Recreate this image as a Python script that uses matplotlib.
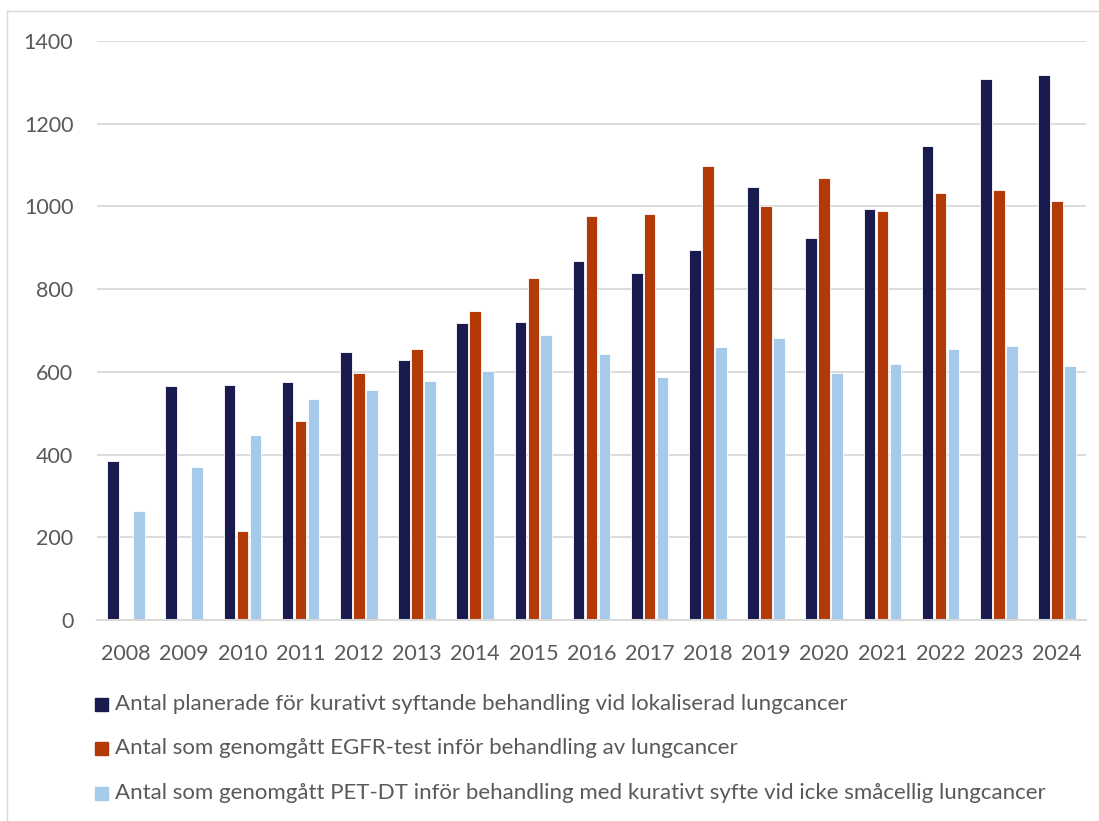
import matplotlib
matplotlib.use("Agg")
import matplotlib.pyplot as plt
import numpy as np
from matplotlib.lines import Line2D

years = ["2008", "2009", "2010", "2011", "2012", "2013", "2014", "2015", "2016",
         "2017", "2018", "2019", "2020", "2021", "2022", "2023", "2024"]
planerade = [385, 566, 569, 576, 647, 628, 719, 721, 869, 839, 895, 1048, 924, 993, 1146, 1308, 1317]
egfr = [0, 0, 214, 480, 597, 655, 747, 827, 976, 981, 1098, 1000, 1069, 990, 1032, 1039, 1013]
petdt = [263, 371, 447, 534, 555, 577, 603, 690, 644, 588, 659, 681, 598, 618, 655, 663, 615]

labels = [
    "Antal planerade för kurativt syftande behandling vid lokaliserad lungcancer",
    "Antal som genomgått EGFR-test inför behandling av lungcancer",
    "Antal som genomgått PET-DT inför behandling med kurativt syfte vid icke småcellig lungcancer",
]
colors = ["#191A4D", "#B33A06", "#A6CAEA"]
yticks = [0, 200, 400, 600, 800, 1000, 1200, 1400]

plt.rcParams['font.family'] = ['Lato', 'DejaVu Sans']
text_color = "#595959"
grid_color = "#D9D9D9"

fig = plt.figure(figsize=(10.99, 8.21), dpi=100)
ax = fig.add_axes([97/1099, 1-620/821, (1086-97)/1099, (620-41)/821])

x = np.arange(len(years))
w = 0.2
off = 0.223
for i, (vals, c) in enumerate(zip([planerade, egfr, petdt], colors)):
    ax.bar(x + (i-1)*off, vals, width=w, color=c, edgecolor="white", linewidth=0.6, zorder=3)

ax.set_xlim(-0.5, len(years)-0.5)
ax.set_ylim(0, 1400)
ax.set_yticks(yticks)
ax.set_yticklabels([str(v) for v in yticks])
ax.set_xticks(x)
ax.set_xticklabels(years)
ax.tick_params(axis='both', length=0, colors=text_color, labelsize=15.5)
ax.tick_params(axis='y', pad=17)
ax.tick_params(axis='x', pad=17)
ax.grid(axis='y', color=grid_color, linewidth=1.3, zorder=0)
for s in ["top", "right", "left"]:
    ax.spines[s].set_visible(False)
ax.spines["bottom"].set_color(grid_color)
ax.spines["bottom"].set_linewidth(1.5)
ax.spines["bottom"].set_zorder(4)

# legend rows
ys = [704, 748, 793]
for lab, c, yy in zip(labels, colors, ys):
    fy = 1 - yy/821
    fig.patches.append(plt.Rectangle((95/1099, fy - 6.5/821), 13/1099, 13/821,
                                     transform=fig.transFigure, color=c))
    fig.text(115/1099, fy, lab, color=text_color, fontsize=16, va='center', ha='left')

# outer frame (left & top)
fig.add_artist(Line2D([7/1099, 7/1099], [0, 1-11/821], transform=fig.transFigure, color=grid_color, lw=1))
fig.add_artist(Line2D([7/1099, 1], [1-11/821, 1-11/821], transform=fig.transFigure, color=grid_color, lw=1))

fig.savefig("out.png", dpi=100)
